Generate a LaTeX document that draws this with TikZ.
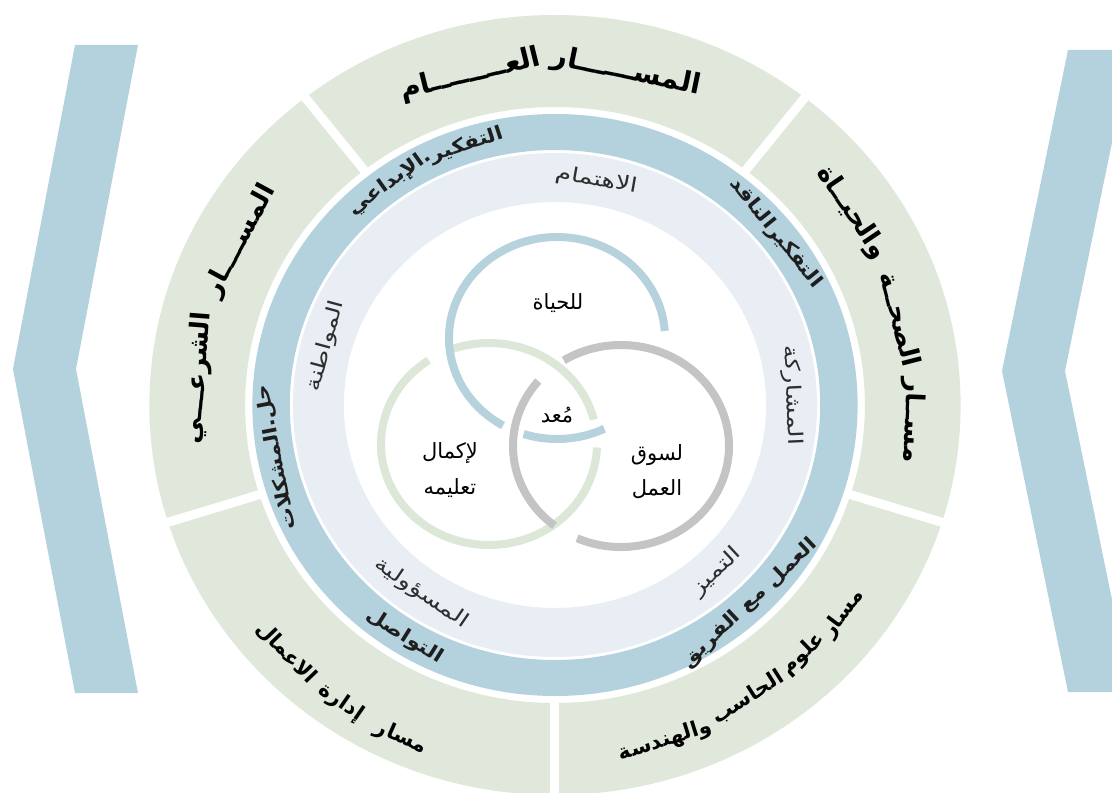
\documentclass[tikz,border=0pt]{standalone}
\usepackage{fontspec}
\newfontfamily\arabicfont[Script=Arabic]{DejaVu Sans}
\TeXXeTstate=1
\definecolor{ringgreen}{HTML}{DFE8DA}
\definecolor{ringblue}{HTML}{B4D2DD}
\definecolor{ringlight}{HTML}{E8EEF3}
\definecolor{vblue}{HTML}{B5D2DD}
\definecolor{vgreen}{HTML}{DCE7D8}
\definecolor{vgrey}{HTML}{C4C4C4}
\definecolor{txt}{HTML}{1E1E1E}
\definecolor{txtl}{HTML}{2E2E2E}
\newcommand\rl[6]{%
  \node[rotate=#4, #5] (#1) at ({1.04*#3*cos(#2)},{#3*sin(#2)}) {\beginR #6\endR};}
\begin{document}
\begin{tikzpicture}[x=1pt,y=1pt,
  outer/.style={font=\arabicfont\bfseries\fontsize{28}{30}\selectfont, text=black, inner sep=0pt},
  outerside/.style={font=\arabicfont\bfseries\fontsize{26}{28}\selectfont, text=black, inner sep=0pt},
  outersm/.style={font=\arabicfont\bfseries\fontsize{21}{23}\selectfont, text=black, inner sep=0pt},
  bluetxt/.style={font=\arabicfont\bfseries\fontsize{19}{21}\selectfont, text=txt, inner sep=0pt, xscale=1.15},
  lighttxt/.style={font=\arabicfont\fontsize{20}{22}\selectfont, text=txtl, inner sep=0pt, xscale=1.3},
  venntxt/.style={font=\arabicfont\fontsize{21}{23}\selectfont, text=black, inner sep=0pt},
  vring/.style={line width=8pt}]
\useasboundingbox (-555,-388) rectangle (557,405);
\clip (-555,-388) rectangle (557,405);
\fill[white] (-555,-388) rectangle (557,405);
% chevrons
\fill[ringblue] (-480,360) -- (-417,360) -- (-479,36) -- (-417,-288) -- (-480,-288) -- (-542,36) -- cycle;
\fill[ringblue] (513,355) -- (576,355) -- (510,34) -- (576,-287) -- (513,-287) -- (447,34) -- cycle;
% rings
\begin{scope}[xscale=1.04]
\fill[ringgreen, even odd rule] (0,0) circle (390) (0,0) circle (298);
\foreach \a in {52,128,197.5,270,-17.5} \draw[white, line width=9pt] (\a:292) -- (\a:400);
\fill[ringblue, even odd rule] (0,0) circle (291) (0,0) circle (255);
\fill[ringlight, even odd rule] (0,0) circle (252) (0,0) circle (203);
\end{scope}
% venn rings
\draw[vring, vgreen] (-66,-39) ++(14:108 and 101) arc[start angle=14,end angle=110,x radius=108,y radius=101];
\draw[vring, vgreen] (-66,-39) ++(124:108 and 101) arc[start angle=124,end angle=358,x radius=108,y radius=101];
\draw[vring, vgrey] (66,-41) ++(140:108 and 101) arc[start angle=140,end angle=232,x radius=108,y radius=101];
\draw[vring, vgrey] (66,-41) ++(246:108 and 101) arc[start angle=246,end angle=482,x radius=108,y radius=101];
\draw[vring, vblue] (2,67) ++(4:108 and 101) arc[start angle=4,end angle=240,x radius=108,y radius=101];
\draw[vring, vblue] (2,67) ++(252:108 and 101) arc[start angle=252,end angle=296,x radius=108,y radius=101];
% outer labels
\rl{t1}{78.4}{340}{-11.6}{outer}{المســــــار}
\rl{t2}{103.8}{340}{13.8}{outer}{العــــــــام}
\rl{l1}{151.5}{344}{61.5}{outerside}{المســــار}
\rl{l2}{175.5}{344}{85.5}{outerside}{الشرعـــي}
\rl{r1}{-2.5}{344}{-92.5}{outerside}{مســار}
\rl{r2}{14.5}{344}{-75.5}{outerside}{الصحــة}
\rl{r3}{34}{344}{-56}{outerside}{والحيــاة}
\rl{bl1}{246}{364}{336}{outersm}{مسار}
\rl{bl2}{235.3}{362}{325.3}{outersm}{إدارة}
\rl{bl3}{223.8}{358}{313.8}{outersm}{الاعمال}
\rl{br1}{-37}{347}{53}{outersm}{مسار}
\rl{br2}{-46.2}{345}{43.8}{outersm}{علوم}
\rl{br3}{-57.6}{346}{32.4}{outersm}{الحاسب}
\rl{br4}{-72.5}{352}{17.5}{outersm}{والهندسة}
% blue ring labels
\rl{b1}{108}{273}{18}{bluetxt}{التفكير}
\rl{b2}{125.5}{273}{35.5}{bluetxt}{.الإبداعي}
\rl{b3}{39}{273}{-51}{bluetxt}{التفكيرالناقد}
\rl{b4}{191}{273}{101}{bluetxt}{حل.المشكلات}
\rl{b5}{238}{273}{328}{bluetxt}{التواصل}
\node[rotate=43.4, bluetxt] (b6) at ({1.04*273*cos(-46.6)},{273*sin(-46.6)}) {\beginR العمل مع الفريق\endR};
% light ring labels
\rl{m1}{80}{228}{-10}{lighttxt}{الاهتمام}
\rl{m2}{165}{228}{75}{lighttxt}{المواطنة}
\rl{m3}{2.5}{228}{-87.5}{lighttxt}{المشاركة}
\rl{m4}{235.7}{228}{325.7}{lighttxt}{المسؤولية}
\rl{m5}{-47}{228}{43}{lighttxt}{التميز}
% venn labels
\node[venntxt] (v1) at (3,102) {\beginR للحياة\endR};
\node[venntxt] (v2) at (2,-10) {\beginR مُعد\endR};
\node[venntxt] (v3) at (-105,-48) {\beginR لإكمال\endR};
\node[venntxt] (v4) at (-105,-83) {\beginR تعليمه\endR};
\node[venntxt] (v5) at (102,-50) {\beginR لسوق\endR};
\node[venntxt] (v6) at (102,-84) {\beginR العمل\endR};
\end{tikzpicture}
\end{document}
